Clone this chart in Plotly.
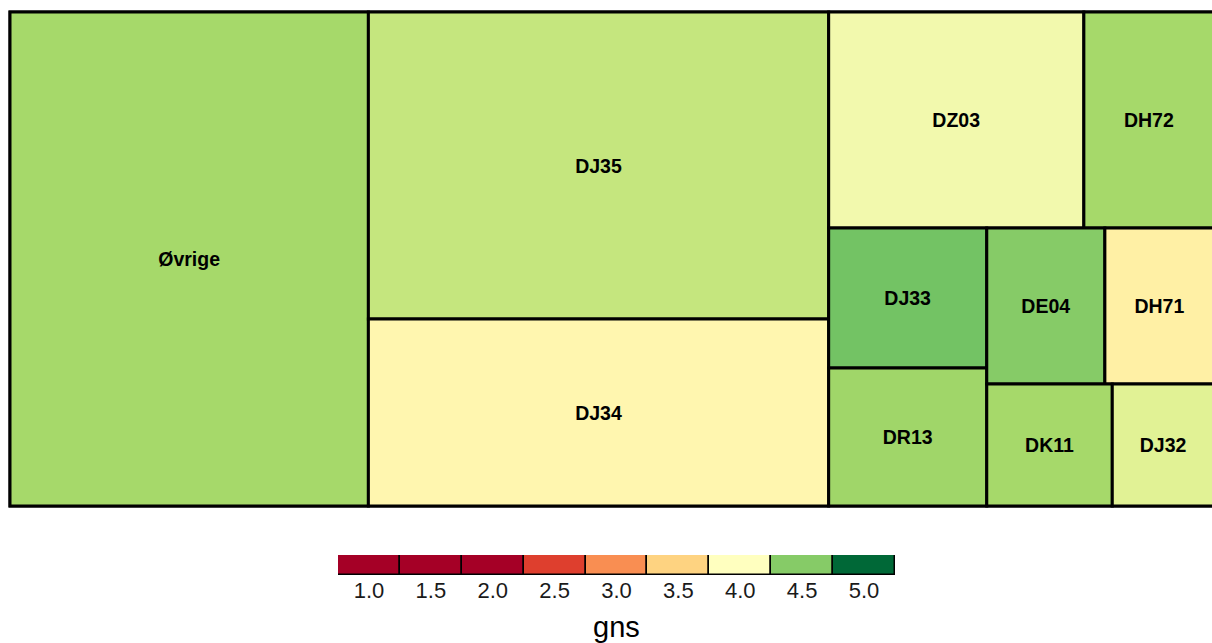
import plotly.graph_objects as go

# ---- data ----
labels = ["Øvrige", "DJ35", "DJ34", "DZ03", "DH72", "DJ33", "DR13", "DE04", "DH71", "DK11", "DJ32"]
sizes = [1769, 1412, 860, 551, 281, 221, 218, 184, 170, 153, 124]
gns = [4.40, 4.28, 3.88, 4.07, 4.40, 4.56, 4.42, 4.50, 3.80, 4.40, 4.16]

legend_values = [1.0, 1.5, 2.0, 2.5, 3.0, 3.5, 4.0, 4.5, 5.0]
legend_labels = ["1.0", "1.5", "2.0", "2.5", "3.0", "3.5", "4.0", "4.5", "5.0"]

# RdYlGn palette, values 1-2 darkest red, 2-4 red->yellow, 4-5 yellow->green
rdylgn = ["#A50026", "#D73027", "#F46D43", "#FDAE61", "#FEE08B", "#FFFFBF",
          "#D9EF8B", "#A6D96A", "#66BD63", "#1A9850", "#006837"]
colorscale = [[0.0, rdylgn[0]], [0.25, rdylgn[0]]]
for i in range(1, 6):
    colorscale.append([0.25 + 0.1 * i, rdylgn[i]])
for i in range(6, 11):
    colorscale.append([0.75 + 0.05 * (i - 5), rdylgn[i]])

FONT = "Liberation Sans, Arial, sans-serif"
W, H = 1214, 643

fig = go.Figure()

fig.add_trace(go.Treemap(
    labels=labels,
    parents=[""] * len(labels),
    values=sizes,
    sort=True,
    root=dict(color="rgba(0,0,0,0)"),
    texttemplate="<b>%{label}</b>",
    textposition="middle center",
    textfont=dict(family=FONT, size=19.5, color="black"),
    marker=dict(
        colors=gns,
        colorscale=colorscale,
        cmin=1, cmax=5,
        showscale=False,
        line=dict(color="black", width=3),
        pad=dict(t=0, l=0, r=0, b=0),
    ),
    tiling=dict(packing="squarify", squarifyratio=1.3, pad=0),
    pathbar=dict(visible=False),
    hoverinfo="label+value",
    domain=dict(x=[10 / W, 1.0], y=[1 - 506 / H, 1 - 12 / H]),
))

fig.add_trace(go.Bar(
    x=legend_labels,
    y=[1] * len(legend_values),
    marker=dict(
        color=legend_values,
        colorscale=colorscale,
        cmin=1, cmax=5,
        line=dict(color="black", width=1.5),
    ),
    width=1,
    xaxis="x2", yaxis="y2",
    showlegend=False,
    hoverinfo="x",
))

fig.update_layout(
    width=W, height=H,
    margin=dict(l=0, r=0, t=0, b=0),
    paper_bgcolor="white",
    plot_bgcolor="white",
    bargap=0,
    xaxis2=dict(
        domain=[338 / W, 895 / W],
        anchor="y2",
        showgrid=False, zeroline=False, showline=False,
        ticks="",
        tickfont=dict(family=FONT, size=22, color="#1a1a1a"),
        title=dict(text="gns", font=dict(family=FONT, size=29, color="black"),
                   standoff=14),
    ),
    yaxis2=dict(
        domain=[1 - 575 / H, 1 - 555 / H],
        anchor="x2",
        range=[0, 1],
        visible=False,
        fixedrange=True,
    ),
)

fig.write_html(
    "out.html",
    config={"displayModeBar": False},
    post_script="document.body.style.margin='0';document.body.style.overflow='hidden';",
)
